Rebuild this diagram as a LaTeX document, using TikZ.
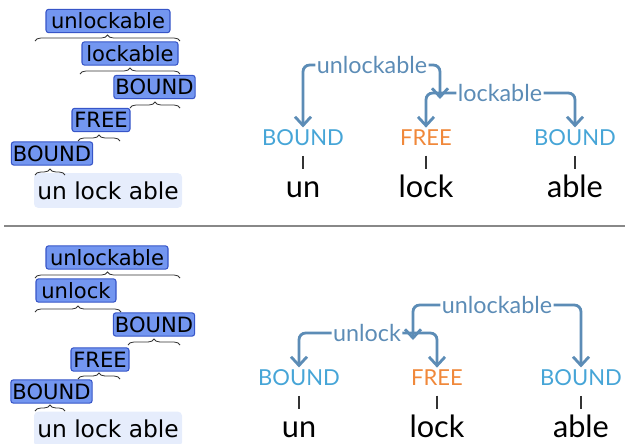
\documentclass[tikz,border=0pt]{standalone}
\usepackage{fontspec}
\setmainfont{DejaVu Sans}
\newfontfamily\roundfont{Lato}
\usepackage{tikz}
\usetikzlibrary{arrows.meta, decorations.pathreplacing}
\definecolor{boxfill}{RGB}{115, 150, 240}
\definecolor{boxline}{RGB}{55, 85, 200}
\definecolor{wordbg}{RGB}{230, 237, 252}
\definecolor{boundc}{RGB}{70, 165, 215}
\definecolor{freec}{RGB}{240, 136, 58}
\definecolor{linkc}{RGB}{92, 140, 182}
\definecolor{rulec}{RGB}{136, 136, 136}
\tikzstyle{tagbox} = [rectangle, rounded corners=2pt, draw=boxline, fill=boxfill, line width=0.8pt, minimum height=17.5pt, inner sep=1pt, font=\fontsize{15.8}{16}\selectfont]
\tikzstyle{surface} = [rectangle, rounded corners=3pt, fill=wordbg, minimum width=111pt, minimum height=26pt, inner sep=0pt, font=\fontsize{17.5}{18}\selectfont]
\tikzstyle{spanbrace} = [decorate, decoration={brace, amplitude=4.5pt}, draw=black!80, line width=0.6pt]
\tikzstyle{morph} = [inner sep=1pt, anchor=base, font=\roundfont\fontsize{23}{24}\selectfont]
\tikzstyle{kindlabel} = [inner sep=1pt, anchor=base, font=\roundfont\fontsize{16.5}{17}\selectfont]
\tikzstyle{link} = [draw=linkc, line width=2.1pt, rounded corners=5pt, -{Straight Barb[length=6.5pt, width=12pt]}]
\tikzstyle{linklabel} = [text=linkc, inner sep=1pt, font=\roundfont\fontsize{17.5}{18}\selectfont]
\tikzstyle{stemline} = [draw=black!80, line width=1pt]

\begin{document}
\begin{tikzpicture}[x=0.75pt, y=-0.75pt]
    \useasboundingbox (0,0) rectangle (625,443);

    % upper parse: un + (lock + able)
    \node[tagbox, minimum width=93pt] (ua) at (108, 21) {unlockable};
    \node[tagbox, minimum width=72pt] (la) at (130, 53.5) {lockable};
    \node[tagbox, minimum width=61pt] (ab) at (154.5, 87) {BOUND};
    \node[tagbox, minimum width=43.5pt] (lk) at (101, 120) {FREE};
    \node[tagbox, minimum width=61pt] (un) at (52, 153.5) {BOUND};
    \node[surface] (ws) at (108, 190.5) {un lock able};
    \coordinate (ua-l) at (35, 41);  \coordinate (ua-r) at (180, 41);
    \coordinate (la-l) at (80, 74);  \coordinate (la-r) at (180, 74);
    \coordinate (ab-l) at (130, 108); \coordinate (ab-r) at (180, 108);
    \coordinate (lk-l) at (78, 141);  \coordinate (lk-r) at (120, 141);
    \coordinate (un-l) at (35, 175);  \coordinate (un-r) at (65, 175);
    \draw[spanbrace] (ua-l) -- (ua-r);
    \draw[spanbrace] (la-l) -- (la-r);
    \draw[spanbrace] (ab-l) -- (ab-r);
    \draw[spanbrace] (lk-l) -- (lk-r);
    \draw[spanbrace] (un-l) -- (un-r);

    \node[kindlabel, text=boundc] (tb1) at (303, 145) {BOUND};
    \node[kindlabel, text=freec] (tf1) at (426, 145) {FREE};
    \node[kindlabel, text=boundc] (tb3) at (575, 145) {BOUND};
    \node[morph] (tw1) at (303, 197) {un};
    \node[morph] (tw2) at (426, 197) {lock};
    \node[morph] (tw3) at (575, 197) {able};
    \draw[stemline] (tb1.south) ++(0, 9) -- ++(0, 13);
    \draw[stemline] (tf1.south) ++(0, 9) -- ++(0, 13);
    \draw[stemline] (tb3.south) ++(0, 9) -- ++(0, 13);
    \node[linklabel] (tl1) at (372, 65) {unlockable};
    \node[linklabel] (tl2) at (500, 93) {lockable};
    \coordinate (tj1) at (440, 99);
    \draw[link] (tl1.west) -| (tb1.north);
    \draw[link] (tl1.east) -| (tj1);
    \draw[link] (tl2.west) -| (tf1.north);
    \draw[link] (tl2.east) -| (tb3.north);

    \draw[rulec, line width=1.2pt] (4, 226) -- (625, 226);

    % lower parse: (un + lock) + able
    \node[tagbox, minimum width=91.5pt] (ub) at (107, 257.5) {unlockable};
    \node[tagbox, minimum width=60pt] (ul) at (76, 290.5) {unlock};
    \node[tagbox, minimum width=61pt] (ab2) at (154, 324.5) {BOUND};
    \node[tagbox, minimum width=43.5pt] (lk2) at (100, 359.5) {FREE};
    \node[tagbox, minimum width=61pt] (un2) at (51.5, 391.5) {BOUND};
    \node[surface] (ws2) at (108, 429) {un lock able};
    \coordinate (ub-l) at (35, 278);   \coordinate (ub-r) at (180, 278);
    \coordinate (ul-l) at (35, 312);   \coordinate (ul-r) at (121, 312);
    \coordinate (ab2-l) at (128, 345); \coordinate (ab2-r) at (180, 345);
    \coordinate (lk2-l) at (78, 379);  \coordinate (lk2-r) at (120, 379);
    \coordinate (un2-l) at (35, 411);  \coordinate (un2-r) at (65, 411);
    \draw[spanbrace] (ub-l) -- (ub-r);
    \draw[spanbrace] (ul-l) -- (ul-r);
    \draw[spanbrace] (ab2-l) -- (ab2-r);
    \draw[spanbrace] (lk2-l) -- (lk2-r);
    \draw[spanbrace] (un2-l) -- (un2-r);

    \node[kindlabel, text=boundc] (bb1) at (299, 385) {BOUND};
    \node[kindlabel, text=freec] (bf1) at (437, 385) {FREE};
    \node[kindlabel, text=boundc] (bb3) at (581, 385) {BOUND};
    \node[morph] (bw1) at (299, 437) {un};
    \node[morph] (bw2) at (437, 437) {lock};
    \node[morph] (bw3) at (581, 437) {able};
    \draw[stemline] (bb1.south) ++(0, 9) -- ++(0, 13);
    \draw[stemline] (bf1.south) ++(0, 9) -- ++(0, 13);
    \draw[stemline] (bb3.south) ++(0, 9) -- ++(0, 13);
    \node[linklabel] (bl1) at (367, 333) {unlock};
    \node[linklabel] (bl2) at (497, 305) {unlockable};
    \coordinate (bj2) at (413, 340);
    \draw[link] (bl1.west) -| (bb1.north);
    \draw[link] (bl1.east) -| (bf1.north);
    \draw[link] (bl2.west) -| (bj2);
    \draw[link] (bl2.east) -| (bb3.north);
\end{tikzpicture}
\end{document}
